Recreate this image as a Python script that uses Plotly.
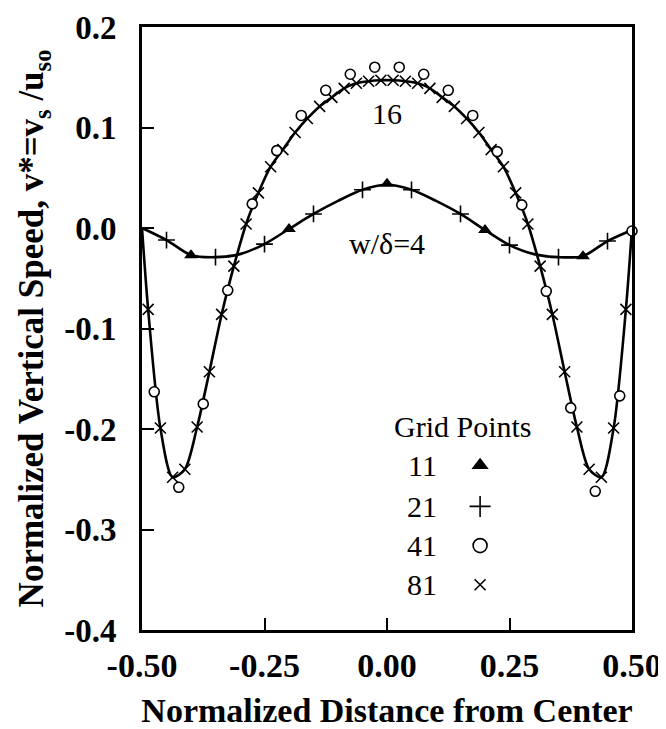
import plotly.graph_objects as go

# ---------------- data ----------------
# w/delta = 4 : 21-point solution (line), markers on every other point
x_w4 = [-0.50, -0.45, -0.40, -0.35, -0.30, -0.25, -0.20, -0.15, -0.10, -0.05, 0.00,
        0.05, 0.10, 0.15, 0.20, 0.25, 0.30, 0.35, 0.40, 0.45, 0.50]
y_w4 = [0.000, -0.012, -0.027, -0.029, -0.026, -0.016, -0.001, 0.014, 0.027, 0.038, 0.043,
        0.038, 0.027, 0.014, -0.002, -0.017, -0.026, -0.029, -0.028, -0.013, -0.002]
x_plus = [-0.45, -0.35, -0.25, -0.15, -0.05, 0.05, 0.15, 0.25, 0.35, 0.45]
y_plus = [-0.012, -0.029, -0.016, 0.014, 0.038, 0.038, 0.014, -0.017, -0.029, -0.013]

# 11 grid points (triangles)
x_tri = [-0.40, -0.20, 0.00, 0.20, 0.40]
y_tri = [-0.027, -0.001, 0.044, -0.002, -0.028]

# w/delta = 16 : 81-point solution (line + x markers)
x_w16 = [-0.5, -0.4875, -0.4625, -0.4375, -0.4125, -0.3875, -0.3625, -0.3375, -0.3125,
         -0.2875, -0.2625, -0.2375, -0.2125, -0.1875, -0.1625, -0.1375, -0.1125, -0.0875,
         -0.0625, -0.0375, -0.0125, 0.0125, 0.0375, 0.0625, 0.0875, 0.1125, 0.1375, 0.1625,
         0.1875, 0.2125, 0.2375, 0.2625, 0.2875, 0.3125, 0.3375, 0.3625, 0.3875, 0.4125,
         0.4375, 0.4625, 0.4875, 0.5]
y_w16 = [0.000, -0.081, -0.199, -0.248, -0.240, -0.198, -0.143, -0.086, -0.038,
         0.004, 0.035, 0.061, 0.078, 0.095, 0.109, 0.121, 0.130, 0.139,
         0.144, 0.146, 0.147, 0.147, 0.146, 0.144, 0.139, 0.130, 0.121, 0.109,
         0.095, 0.078, 0.061, 0.035, 0.004, -0.038, -0.086, -0.143, -0.198, -0.240,
         -0.248, -0.199, -0.081, 0.000]

# 41 grid points (circles)
x_circ = [-0.475, -0.425, -0.375, -0.325, -0.275, -0.225, -0.175, -0.125, -0.075, -0.025,
          0.025, 0.075, 0.125, 0.175, 0.225, 0.275, 0.325, 0.375, 0.425, 0.475, 0.500]
y_circ = [-0.163, -0.258, -0.175, -0.062, 0.024, 0.077, 0.112, 0.137, 0.153, 0.160,
          0.160, 0.153, 0.137, 0.112, 0.076, 0.023, -0.063, -0.179, -0.262, -0.167, -0.003]

# legend key
key_labels = ["11", "21", "41", "81"]
key_y = [-0.236, -0.277, -0.316, -0.355]

x_ticks = [-0.50, -0.25, 0.00, 0.25, 0.50]
x_ticktext = ["-0.50", "-0.25", "0.00", "0.25", "0.50"]
y_ticks = [0.2, 0.1, 0.0, -0.1, -0.2, -0.3, -0.4]
y_ticktext = ["0.2", "0.1", "0.0", "-0.1", "-0.2", "-0.3", "-0.4"]

# ---------------- styles ----------------
SERIF = "Liberation Serif"
BLACK = "black"
sty_tri = dict(symbol="triangle-up", size=12, color=BLACK, line=dict(width=0))
sty_plus = dict(symbol="cross-thin", size=12, color=BLACK, line=dict(width=1.6, color=BLACK))
sty_circ = dict(symbol="circle", size=10, color="white", line=dict(width=1.6, color=BLACK))
sty_x = dict(symbol="x-thin", size=11, color=BLACK, line=dict(width=1.6, color=BLACK))

fig = go.Figure()
line_sty = dict(color=BLACK, width=2.6, shape="spline", smoothing=0.8)
fig.add_trace(go.Scatter(x=x_w4, y=y_w4, mode="lines", line=line_sty, hoverinfo="skip"))
fig.add_trace(go.Scatter(x=x_w16, y=y_w16, mode="lines", line=line_sty, hoverinfo="skip"))

fig.add_trace(go.Scatter(x=x_w16[1:-1], y=y_w16[1:-1], mode="markers", marker=sty_x, cliponaxis=False))
fig.add_trace(go.Scatter(x=x_plus, y=y_plus, mode="markers", marker=sty_plus, cliponaxis=False))
fig.add_trace(go.Scatter(x=x_circ, y=y_circ, mode="markers", marker=sty_circ, cliponaxis=False))
fig.add_trace(go.Scatter(x=x_tri, y=y_tri, mode="markers", marker=sty_tri, cliponaxis=False))

# legend key symbols
key_x_sym = 0.19
key_styles = [sty_tri, sty_plus, sty_circ, sty_x]
key_sizes = [15, 15, 14, 11]
for st, yy, sz in zip(key_styles, key_y, key_sizes):
    s = dict(st)
    s["size"] = sz
    fig.add_trace(go.Scatter(x=[key_x_sym], y=[yy], mode="markers", marker=s, cliponaxis=False))

ann_font = dict(family=SERIF, size=30, color=BLACK)
annotations = [
    dict(x=0.0, y=0.114, text="16", showarrow=False, font=ann_font, xanchor="center", yanchor="middle"),
    dict(x=0.0, y=-0.015, text="w/δ=4", showarrow=False, font=ann_font, xanchor="center", yanchor="middle"),
    dict(x=0.156, y=-0.198, text="Grid Points", showarrow=False, font=ann_font, xanchor="center", yanchor="middle"),
]
for lab, yy in zip(key_labels, key_y):
    annotations.append(dict(x=0.107, y=yy, text=lab, showarrow=False, font=ann_font,
                            xanchor="right", yanchor="middle"))

axis_common = dict(
    ticks="inside", ticklen=12, tickwidth=2, tickcolor=BLACK,
    showline=True, linewidth=3, linecolor=BLACK, mirror=True,
    showgrid=False, zeroline=False, automargin=False,
)

NB = "\u00a0"
# the page body adds an 8 px margin, so the figure is sized to fit the window
fig.update_layout(
    template="none",
    width=658, height=721,
    margin=dict(l=134, r=34, t=19, b=99),
    paper_bgcolor="white", plot_bgcolor="white",
    showlegend=False,
    annotations=annotations,
    xaxis=dict(range=[-0.5, 0.5], tickvals=x_ticks, ticktext=x_ticktext,
               ticklabelstandoff=3,
               tickfont=dict(family=SERIF, size=34, color=BLACK, weight="bold"),
               title=dict(text="Normalized Distance from Center",
                          font=dict(family=SERIF, size=34, color=BLACK, weight="bold"),
                          standoff=16),
               **axis_common),
    yaxis=dict(range=[-0.4, 0.2], tickvals=y_ticks, ticktext=y_ticktext,
               ticklabelstandoff=16,
               tickfont=dict(family=SERIF, size=33, color=BLACK, weight="bold"),
               title=dict(text=NB * 3 + "Normalized Vertical Speed, v*=v<sub>s</sub> /u<sub>so</sub>",
                          font=dict(family=SERIF, size=35, color=BLACK, weight="bold"),
                          standoff=10),
               **axis_common),
)

fig.write_html("out.html")
